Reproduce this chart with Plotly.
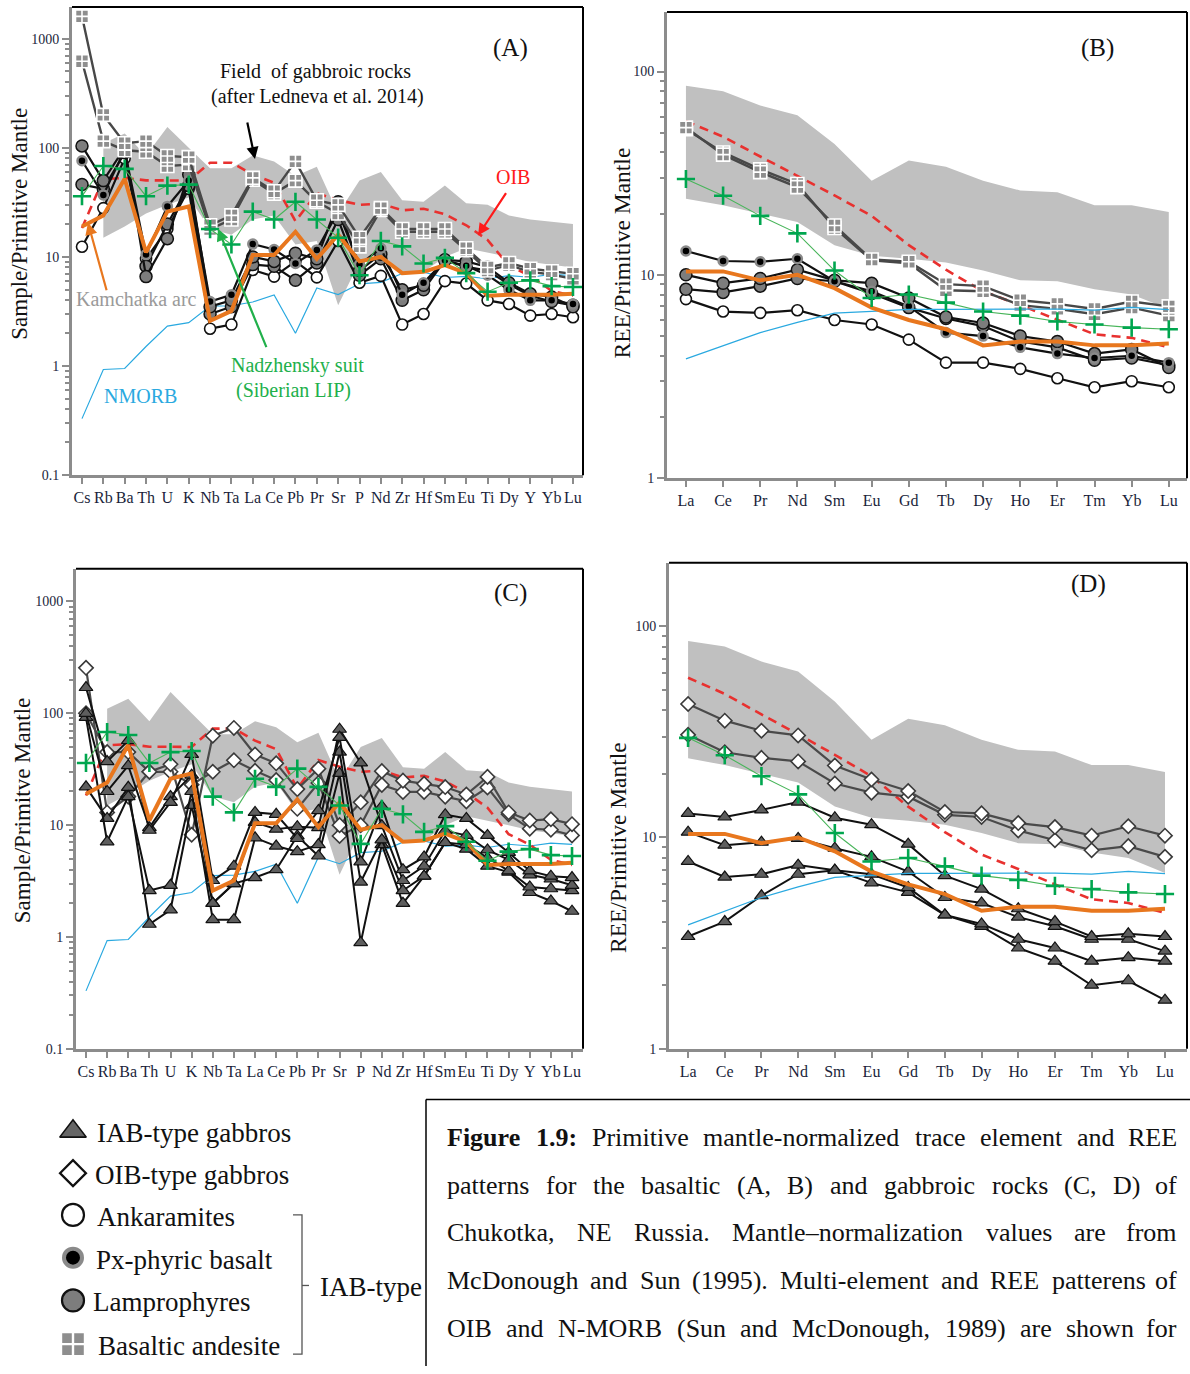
import plotly.graph_objects as go

W, H = 1190, 1374
SERIF = "Liberation Serif, Times New Roman, serif"

# ---------------------------------------------------------------- data
TRACE_EL = ["Cs", "Rb", "Ba", "Th", "U", "K", "Nb", "Ta", "La", "Ce", "Pb", "Pr",
            "Sr", "P", "Nd", "Zr", "Hf", "Sm", "Eu", "Ti", "Dy", "Y", "Yb", "Lu"]
REE_EL = ["La", "Ce", "Pr", "Nd", "Sm", "Eu", "Gd", "Tb", "Dy", "Ho", "Er", "Tm", "Yb", "Lu"]

# reference patterns (trace elements)
OIB_TRACE = [18.4, 51.7, 53, 50.3, 50.2, 50, 73, 73, 57, 47.8, 21.3, 38.2,
             33.2, 30, 30.8, 26.7, 27.6, 24.6, 19.5, 14.3, 8.3, 6.7, 4.9, 4.4]
NMORB_TRACE = [0.33, 0.93, 0.95, 1.51, 2.32, 2.5, 3.54, 3.57, 3.86, 4.48, 2.0, 5.2,
               4.52, 5.67, 5.84, 7.05, 7.24, 6.48, 6.62, 6.31, 6.75, 6.51, 6.92, 6.74]
KAMCHATKA_TRACE = [19, 24, 52, 11, 26, 29, 2.6, 3.2, 10.4, 10.4, 17, 9.6,
                   16, 9.1, 10, 7.1, 7.3, 8.4, 7.1, 4.4, 4.5, 4.5, 4.5, 4.6]
NADZHENSKY_TRACE = [36, 68, 64, 36, 45, 46, 18, 13, 26, 22, 32, 22,
                    15, 6.8, 14, 12.5, 8.7, 9.8, 7.1, 4.8, 5.8, 6.1, 5.4, 5.3]
# field of gabbroic rocks, Rb..Lu
FIELD_TRACE_UPPER = [110, 135, 85, 155, 100, 65, 65, 85, 75, 55, 67, 25,
                     50, 60, 33, 32, 45, 31, 30, 24, 22, 21, 20]
FIELD_TRACE_LOWER = [15, 19, 25, 30, 35, 18, 16, 22, 24, 13, 14, 3.6,
                     9, 11, 7, 7.3, 10, 12, 11, 10, 9, 8.5, 8]

# reference patterns (REE)
OIB_REE = [57, 47.8, 38.2, 30.8, 24.6, 19.5, 14.0, 10.6, 8.3, 7.1, 6.0, 5.1, 4.9, 4.4]
NMORB_REE = [3.86, 4.48, 5.2, 5.84, 6.48, 6.62, 6.76, 6.77, 6.75, 6.78, 6.78, 6.71, 6.92, 6.74]
KAMCHATKA_REE = [10.4, 10.4, 9.4, 10.0, 8.6, 6.9, 6.0, 5.4, 4.5, 4.7, 4.7, 4.5, 4.5, 4.6]
NADZHENSKY_REE = [29.6, 24.5, 19.5, 16.0, 10.5, 7.7, 8.0, 7.3, 6.6, 6.3, 5.9, 5.7, 5.5, 5.4]
FIELD_REE_UPPER = [85, 80, 68, 61, 44, 29, 36.5, 34, 29, 26, 25.5, 22, 22, 20.4]
FIELD_REE_LOWER = [23.7, 22, 20, 18.2, 14, 12.4, 12, 11.5, 10.5, 9.4, 9.3, 8.5, 8.0, 6.8]

# (A) basaltic rocks, trace elements
A_BAS_AND_1 = [1600, 200, 110, 115, 84, 82, 19.5, 24, 53, 40, 75, 33,
               30, 15, 28, 18, 18, 18, 12, 8, 8.8, 7.8, 7.4, 7.0]
A_BAS_AND_2 = [620, 115, 95, 92, 68, 70, 18, 22, 51, 38, 50, 32,
               25, 12.5, 27, 17, 17, 17, 11.5, 7.5, 8.4, 7.3, 6.9, 6.3]
A_PX_BASALT = [76, 37, 95, 10.5, 29, 50, 3.9, 4.5, 13.1, 11.7, 8.7, 11.6,
               26, 8.5, 12.0, 4.5, 5.8, 9.3, 8.3, 6.8, 5.0, 4.0, 4.0, 3.7]
A_LAMPRO_1 = [104, 50, 100, 6.6, 14.7, 57, 3.5, 4.0, 10.0, 9.1, 10.8, 9.6,
              32, 7.5, 10.6, 5.0, 5.5, 9.4, 9.1, 8.1, 5.8, 4.6, 4.3, 3.5]
A_LAMPRO_2 = [46, 42, 90, 8.2, 20, 45, 3.0, 3.5, 8.5, 8.2, 6.1, 8.8,
              22, 6.8, 9.6, 4.0, 5.0, 9.3, 8.1, 7.5, 5.6, 4.4, 3.9, 3.6]
A_ANKARAMITE = [12.4, 28, 80, 9.6, 18, 42, 2.2, 2.4, 7.6, 6.6, 9.1, 6.5,
                14, 5.8, 6.7, 2.4, 3.0, 6.0, 5.7, 4.0, 3.7, 2.9, 3.0, 2.8]

# (B) basaltic rocks, REE
B_BAS_AND_1 = [53, 39, 32, 27, 17.5, 11.9, 11.6, 9.0, 8.8, 7.5, 7.2, 6.8, 7.4, 7.0]
B_BAS_AND_2 = [52, 40, 33, 28, 17.0, 11.8, 11.4, 8.4, 8.3, 7.1, 6.8, 6.4, 6.9, 6.3]
B_PX_BASALT = [13.1, 11.7, 11.6, 12.0, 9.3, 8.3, 7.0, 5.2, 5.0, 4.4, 4.1, 3.9, 4.0, 3.7]
B_LAMPRO_1 = [10.0, 9.1, 9.6, 10.6, 9.4, 9.1, 7.7, 6.2, 5.8, 5.0, 4.7, 4.1, 4.3, 3.5]
B_LAMPRO_2 = [8.5, 8.2, 8.8, 9.6, 9.3, 8.1, 6.9, 6.1, 5.6, 4.7, 4.4, 3.8, 3.9, 3.6]
B_ANKARAMITE = [7.6, 6.6, 6.5, 6.7, 6.0, 5.7, 4.8, 3.7, 3.7, 3.45, 3.1, 2.8, 3.0, 2.8]

# (C) gabbroic rocks, trace elements
C_IAB_1 = [170, 37, 57, 9, 16, 43, 3.2, 4.3, 13.0, 12.5, 7.6, 13.5,
           61, 4.7, 14.7, 4.0, 5.2, 12.4, 11.5, 8.1, 5.7, 3.9, 3.5, 3.4]
C_IAB_2 = [100, 20, 34, 9.5, 18, 28, 2.0, 3.0, 10.6, 9.2, 9.7, 9.5,
           72, 36, 9.9, 3.2, 4.3, 8.9, 8.1, 6.0, 4.9, 3.6, 3.3, 2.9]
C_IAB_3 = [92, 7.1, 18, 2.6, 2.9, 20, 1.43, 1.43, 7.7, 6.5, 5.8, 6.7,
           45, 3.1, 7.4, 2.6, 3.5, 7.0, 6.7, 5.1, 3.9, 2.8, 2.7, 2.6]
C_IAB_4 = [22, 11.5, 21.8, 1.3, 1.75, 15, 2.0, 3.0, 3.4, 4.0, 8.0, 5.3,
           29, 0.89, 6.7, 2.0, 3.5, 7.0, 6.1, 4.3, 3.8, 2.5, 2.1, 1.7]
C_OIB_1 = [255, 13, 18, 30, 35, 8.2, 63, 74, 42.8, 35.7, 21, 32,
           10, 16, 30.4, 25, 23.4, 21.9, 18.8, 27, 13.0, 11, 11.3, 10.2]
C_OIB_2 = [100, 45, 45, 30, 30, 23, 30, 38, 30.6, 25.3, 14, 23.8,
           8, 10, 22.9, 19.8, 19.8, 18.0, 16.3, 21.7, 12.5, 9.3, 9.1, 8.1]

# (D) gabbroic rocks, REE
D_IAB_1 = [13.0, 12.5, 13.5, 14.7, 12.4, 11.5, 9.3, 6.6, 5.7, 4.6, 4.0, 3.4, 3.5, 3.4]
D_IAB_2 = [10.6, 9.2, 9.5, 9.9, 8.9, 8.1, 6.9, 5.2, 4.9, 4.2, 3.8, 3.3, 3.3, 2.9]
D_IAB_3 = [7.7, 6.5, 6.7, 7.4, 7.0, 6.7, 5.8, 4.3, 3.9, 3.3, 3.0, 2.6, 2.7, 2.6]
D_IAB_4 = [3.4, 4.0, 5.3, 6.7, 7.0, 6.1, 5.5, 4.3, 3.8, 3.0, 2.6, 2.0, 2.1, 1.7]
D_OIB_1 = [42.8, 35.7, 32, 30.4, 21.9, 18.8, 16.6, 13.2, 13.0, 11.7, 11.2, 10.2, 11.3, 10.2]
D_OIB_2 = [30.6, 25.3, 23.8, 22.9, 18.0, 16.3, 15.6, 12.8, 12.5, 10.8, 9.7, 8.7, 9.1, 8.1]

LEGEND_LABELS = ["IAB-type gabbros", "OIB-type gabbros", "Ankaramites",
                 "Px-phyric basalt", "Lamprophyres", "Basaltic andesite"]
CAPTION = [
    "Figure 1.9: Primitive mantle-normalized trace element and REE",
    "patterns for the basaltic (A, B) and gabbroic rocks (C, D) of",
    "Chukotka, NE Russia. Mantle\u2013normalization values are from",
    "McDonough and Sun (1995). Multi-element and REE patterens of",
    "OIB and N-MORB (Sun and McDonough, 1989) are shown for",
]

# ---------------------------------------------------------------- layout helpers
def xp(v):
    return v / W


def yp(v):
    return 1 - v / H


PANELS = {
    "A": dict(x="x", y="y", xdom=(72, 583), ydom=(7, 478), xr=[-0.468, 23.47], yr=[-1, 3.29],
              cats=TRACE_EL, majors=[0.1, 1, 10, 100, 1000]),
    "B": dict(x="x2", y="y2", xdom=(667, 1187), ydom=(12, 481), xr=[-0.51, 13.49], yr=[0, 2.293],
              cats=REE_EL, majors=[1, 10, 100]),
    "C": dict(x="x3", y="y3", xdom=(76, 583), ydom=(572, 1055), xr=[-0.473, 23.52], yr=[-1, 3.293],
              cats=TRACE_EL, majors=[0.1, 1, 10, 100, 1000]),
    "D": dict(x="x4", y="y4", xdom=(669, 1187), ydom=(566, 1055), xr=[-0.52, 13.6], yr=[0, 2.30],
              cats=REE_EL, majors=[1, 10, 100]),
}

STYLE = {
    "BA": dict(lc="#484848", lw=2.4, sym="square-cross", size=13, fill="#8e8e8e", mlc="#ffffff", mlw=1.6),
    "PX": dict(lc="#111111", lw=2.2, sym="circle", size=9, fill="#000000", mlc="#8a8a8a", mlw=2.5),
    "LAMP": dict(lc="#111111", lw=2.2, sym="circle", size=12, fill="#7d7d7d", mlc="#111111", mlw=1.5),
    "ANK": dict(lc="#111111", lw=2.2, sym="circle", size=11, fill="#ffffff", mlc="#111111", mlw=1.6),
    "TRI": dict(lc="#111111", lw=2.0, sym="triangle-up", size=12, fill="#5e5e5e", mlc="#111111", mlw=1.2),
    "DIA": dict(lc="#4a4a4a", lw=2.2, sym="diamond", size=11, fill="#ffffff", mlc="#3a3a3a", mlw=1.6),
}

fig = go.Figure()


def add_field(p, cats, up, lo):
    cs = list(cats)
    fig.add_trace(go.Scatter(x=cs + cs[::-1], y=list(up) + list(lo)[::-1], mode="lines",
                             fill="toself", fillcolor="#c0c0c0", line=dict(width=0, color="#c0c0c0"),
                             xaxis=p["x"], yaxis=p["y"], showlegend=False, hoverinfo="skip"))


def add_line(p, cats, vals, color, width, dash="solid"):
    fig.add_trace(go.Scatter(x=cats, y=vals, mode="lines", line=dict(color=color, width=width, dash=dash),
                             xaxis=p["x"], yaxis=p["y"], showlegend=False, hoverinfo="skip"))


def add_sample(p, cats, vals, key):
    s = STYLE[key]
    fig.add_trace(go.Scatter(x=cats, y=vals, mode="lines+markers",
                             line=dict(color=s["lc"], width=s["lw"]),
                             marker=dict(symbol=s["sym"], size=s["size"], color=s["fill"],
                                         line=dict(color=s["mlc"], width=s["mlw"])),
                             xaxis=p["x"], yaxis=p["y"], showlegend=False, hoverinfo="skip"))


def add_nadz(p, cats, vals):
    fig.add_trace(go.Scatter(x=cats, y=vals, mode="lines+markers",
                             line=dict(color="#48b55a", width=1.1),
                             marker=dict(symbol="cross-thin", size=13, color="#00a64f",
                                         line=dict(color="#00a64f", width=2.6)),
                             xaxis=p["x"], yaxis=p["y"], showlegend=False, hoverinfo="skip"))


RED, BLUE, ORANGE = "#e8312f", "#2aa9e0", "#e8771e"
DASH = "9px,6px"

# ---- panel A
p = PANELS["A"]
add_field(p, TRACE_EL[1:], FIELD_TRACE_UPPER, FIELD_TRACE_LOWER)
add_line(p, TRACE_EL, NMORB_TRACE, BLUE, 1.2)
add_line(p, TRACE_EL, OIB_TRACE, RED, 2.6, DASH)
add_sample(p, TRACE_EL, A_ANKARAMITE, "ANK")
add_sample(p, TRACE_EL, A_LAMPRO_2, "LAMP")
add_sample(p, TRACE_EL, A_LAMPRO_1, "LAMP")
add_sample(p, TRACE_EL, A_PX_BASALT, "PX")
add_sample(p, TRACE_EL, A_BAS_AND_2, "BA")
add_sample(p, TRACE_EL, A_BAS_AND_1, "BA")
add_line(p, TRACE_EL, KAMCHATKA_TRACE, ORANGE, 4)
add_nadz(p, TRACE_EL, NADZHENSKY_TRACE)

# ---- panel B
p = PANELS["B"]
add_field(p, REE_EL, FIELD_REE_UPPER, FIELD_REE_LOWER)
add_line(p, REE_EL, OIB_REE, RED, 2.6, DASH)
add_sample(p, REE_EL, B_ANKARAMITE, "ANK")
add_sample(p, REE_EL, B_LAMPRO_2, "LAMP")
add_sample(p, REE_EL, B_LAMPRO_1, "LAMP")
add_sample(p, REE_EL, B_PX_BASALT, "PX")
add_sample(p, REE_EL, B_BAS_AND_2, "BA")
add_sample(p, REE_EL, B_BAS_AND_1, "BA")
add_line(p, REE_EL, NMORB_REE, BLUE, 1.2)
add_line(p, REE_EL, KAMCHATKA_REE, ORANGE, 4)
add_nadz(p, REE_EL, NADZHENSKY_REE)

# ---- panel C
p = PANELS["C"]
add_field(p, TRACE_EL[1:], FIELD_TRACE_UPPER, FIELD_TRACE_LOWER)
add_line(p, TRACE_EL, NMORB_TRACE, BLUE, 1.2)
add_line(p, TRACE_EL, OIB_TRACE, RED, 2.6, DASH)
add_sample(p, TRACE_EL, C_OIB_2, "DIA")
add_sample(p, TRACE_EL, C_OIB_1, "DIA")
add_sample(p, TRACE_EL, C_IAB_4, "TRI")
add_sample(p, TRACE_EL, C_IAB_3, "TRI")
add_sample(p, TRACE_EL, C_IAB_2, "TRI")
add_sample(p, TRACE_EL, C_IAB_1, "TRI")
add_line(p, TRACE_EL, KAMCHATKA_TRACE, ORANGE, 4)
add_nadz(p, TRACE_EL, NADZHENSKY_TRACE)

# ---- panel D
p = PANELS["D"]
add_field(p, REE_EL, FIELD_REE_UPPER, FIELD_REE_LOWER)
add_line(p, REE_EL, OIB_REE, RED, 2.6, DASH)
add_sample(p, REE_EL, D_OIB_2, "DIA")
add_sample(p, REE_EL, D_OIB_1, "DIA")
add_sample(p, REE_EL, D_IAB_4, "TRI")
add_sample(p, REE_EL, D_IAB_3, "TRI")
add_sample(p, REE_EL, D_IAB_2, "TRI")
add_sample(p, REE_EL, D_IAB_1, "TRI")
add_line(p, REE_EL, NMORB_REE, BLUE, 1.2)
add_line(p, REE_EL, KAMCHATKA_REE, ORANGE, 4)
add_nadz(p, REE_EL, NADZHENSKY_REE)

# ---------------------------------------------------------------- axes
AXIS_GRAY = "#8c8c8c"
TICK_FONT_X = dict(family=SERIF, size=16, color="#1b1f3b")
TICK_FONT_Y = dict(family=SERIF, size=14, color="#1b1f3b")
layout_axes = {}
shapes = []
for i, key in enumerate(["A", "B", "C", "D"]):
    p = PANELS[key]
    sfx = "" if i == 0 else str(i + 1)
    minors = [k * 10 ** e for e in range(-1, 4) for k in range(2, 10)]
    layout_axes["xaxis" + sfx] = dict(
        domain=[xp(p["xdom"][0]), xp(p["xdom"][1])], anchor="y" + sfx,
        type="category", categoryorder="array", categoryarray=p["cats"],
        range=p["xr"], tickmode="array", tickvals=p["cats"], ticktext=p["cats"], tickangle=0,
        showline=True, linecolor=AXIS_GRAY, linewidth=3, mirror=False,
        ticks="outside", ticklen=6, tickwidth=2, tickcolor=AXIS_GRAY,
        tickfont=TICK_FONT_X, showgrid=False, zeroline=False, fixedrange=True)
    layout_axes["yaxis" + sfx] = dict(
        domain=[yp(p["ydom"][1]), yp(p["ydom"][0])], anchor="x" + sfx,
        type="log", range=p["yr"], tickmode="array", tickvals=p["majors"],
        ticktext=[("%g" % v) for v in p["majors"]],
        minor=dict(tickmode="array", tickvals=minors, ticks="outside", ticklen=4,
                   tickwidth=1.5, tickcolor=AXIS_GRAY, showgrid=False),
        showline=True, linecolor=AXIS_GRAY, linewidth=3, mirror=False,
        ticks="outside", ticklen=7, tickwidth=2, tickcolor=AXIS_GRAY,
        tickfont=TICK_FONT_Y, showgrid=False, zeroline=False, fixedrange=True)
    # black top and right frame lines
    shapes.append(dict(type="line", xref="x%s domain" % sfx, yref="y%s domain" % sfx,
                       x0=0, x1=1, y0=1, y1=1, line=dict(color="#000000", width=2), layer="above"))
    shapes.append(dict(type="line", xref="x%s domain" % sfx, yref="y%s domain" % sfx,
                       x0=1, x1=1, y0=0, y1=1, line=dict(color="#000000", width=2), layer="above"))

# overlay axes used for the legend key glyphs (pixel coordinates)
layout_axes["xaxis5"] = dict(domain=[0, 1], range=[0, W], visible=False, anchor="y5", fixedrange=True)
layout_axes["yaxis5"] = dict(domain=[0, 1], range=[H, 0], visible=False, anchor="x5", fixedrange=True)

# ---------------------------------------------------------------- legend key
LEG_X = 73
LEG_Y = [1138, 1180, 1222, 1265, 1308, 1352]
LEG_TEXT_X = [95, 93, 95, 94, 91, 96]
LEG_SYMBOLS = [
    dict(symbol="triangle-up", size=23, color="#666666", line=dict(color="#111111", width=1.6)),
    dict(symbol="diamond", size=20, color="#ffffff", line=dict(color="#111111", width=2.2)),
    dict(symbol="circle", size=22, color="#ffffff", line=dict(color="#111111", width=2.2)),
    dict(symbol="circle", size=18, color="#000000", line=dict(color="#8a8a8a", width=4)),
    dict(symbol="circle", size=22, color="#7d7d7d", line=dict(color="#111111", width=2.2)),
    dict(symbol="square-cross", size=24, color="#8e8e8e", line=dict(color="#ffffff", width=2.4)),
]
for yy, ms in zip(LEG_Y, LEG_SYMBOLS):
    fig.add_trace(go.Scatter(x=[LEG_X], y=[yy], mode="markers", marker=ms, xaxis="x5", yaxis="y5",
                             showlegend=False, hoverinfo="skip"))

annotations = []
for lbl, yy, xx in zip(LEGEND_LABELS, LEG_Y, LEG_TEXT_X):
    annotations.append(dict(text=lbl, x=xp(xx), y=yp(yy + 2), xref="paper", yref="paper",
                            xanchor="left", yanchor="middle", showarrow=False,
                            font=dict(family=SERIF, size=27, color="#111111")))
# bracket
bx0, bx1 = 293, 302
shapes.append(dict(type="path", xref="paper", yref="paper",
                   path="M %f,%f L %f,%f L %f,%f L %f,%f" % (xp(bx0), yp(1222), xp(bx1), yp(1222),
                                                           xp(bx1), yp(1362), xp(bx0), yp(1362)),
                   line=dict(color="#555555", width=1.3)))
shapes.append(dict(type="line", xref="paper", yref="paper", x0=xp(bx1), x1=xp(309), y0=yp(1293), y1=yp(1293),
                   line=dict(color="#555555", width=1.3)))
annotations.append(dict(text="IAB-type", x=xp(318), y=yp(1295), xref="paper", yref="paper",
                        xanchor="left", yanchor="middle", showarrow=False,
                        font=dict(family=SERIF, size=27, color="#111111")))

# ---------------------------------------------------------------- caption box
shapes.append(dict(type="line", xref="paper", yref="paper", x0=xp(426), x1=xp(426), y0=yp(1106), y1=0,
                   line=dict(color="#000000", width=1.5)))
shapes.append(dict(type="line", xref="paper", yref="paper", x0=xp(426), x1=1, y0=yp(1106), y1=yp(1106),
                   line=dict(color="#000000", width=1.5)))

_low = "abcdefghijklmnopqrstuvwxyz"
_loww = [444, 500, 444, 500, 444, 333, 500, 500, 278, 278, 500, 278, 778, 500, 500, 500, 500, 333, 389,
         278, 500, 500, 722, 500, 500, 444]
_up = "ABCDEFGHIJKLMNOPQRSTUVWXYZ"
_upw = [722, 667, 667, 722, 611, 556, 722, 722, 333, 389, 722, 611, 889, 722, 722, 556, 722, 667, 556,
        611, 722, 722, 944, 722, 722, 611]
CW = dict(zip(_low, _loww))
CW.update(dict(zip(_up, _upw)))
CW.update({" ": 250, ".": 250, ",": 250, ":": 278, "(": 333, ")": 333, "-": 333, "\u2013": 500})
CW.update({d: 500 for d in "0123456789"})
CWB = dict(CW)
CWB.update({"F": 611, "u": 556, "r": 444, ":": 333})


def text_w(s, size, bold=False):
    tbl = CWB if bold else CW
    return sum(tbl.get(c, 500) for c in s) * size / 1000.0


CAP_SIZE = 26
CAP_X0, CAP_X1 = 446, 1178
for li, line in enumerate(CAPTION):
    words = line.split(" ")
    bold = [li == 0 and wi < 2 for wi in range(len(words))]
    widths = [text_w(w, CAP_SIZE, b) for w, b in zip(words, bold)]
    gap = (CAP_X1 - CAP_X0 - sum(widths)) / (len(words) - 1)
    cy = 1144 + 48 * li
    cx = CAP_X0
    for wi, (w, b, ww) in enumerate(zip(words, bold, widths)):
        last = wi == len(words) - 1
        annotations.append(dict(text=("<b>%s</b>" % w) if b else w,
                                x=xp(CAP_X1 if last else cx), y=yp(cy), xref="paper", yref="paper",
                                xanchor="right" if last else "left", yanchor="middle",
                                showarrow=False, borderpad=0,
                                font=dict(family=SERIF, size=CAP_SIZE, color="#111111")))
        cx += ww + gap

# ---------------------------------------------------------------- panel texts
def ann(text, x, y, size, color="#111111", angle=0, anchor="center"):
    annotations.append(dict(text=text, x=xp(x), y=yp(y), xref="paper", yref="paper",
                            xanchor=anchor, yanchor="middle", showarrow=False, textangle=angle,
                            font=dict(family=SERIF, size=size, color=color)))


ann("Sample/Primitive Mantle", 20, 225, 23, angle=-90)
ann("REE/Primitive Mantle", 622, 255, 23.5, angle=-90)
ann("Sample/Primitve Mantle", 22, 815, 23, angle=-90)
ann("REE/Primitive Mantle", 618, 853, 23.5, angle=-90)
ann("(A)", 510, 48, 25)
ann("(B)", 1097, 48, 25)
ann("(C)", 510, 596, 25)
ann("(D)", 1088, 587, 25)
ann("Field  of gabbroic rocks", 315, 72, 20)
ann("(after Ledneva et al. 2014)", 317, 97, 20)
ann("OIB", 513, 178, 20, color="#ff1a1a")
ann("Kamchatka arc", 136, 301, 20, color="#9a9a9a")
ann("Nadzhensky suit", 297, 368, 20, color="#21b04b")
ann("(Siberian LIP)", 293, 393, 20, color="#21b04b")
ann("NMORB", 140, 398, 20, color="#2aa9e0")


def arrow(tip, tail, color):
    annotations.append(dict(text="", x=xp(tip[0]), y=yp(tip[1]), xref="paper", yref="paper",
                            ax=tail[0] - tip[0], ay=tail[1] - tip[1], showarrow=True,
                            arrowhead=2, arrowsize=1.1, arrowwidth=2.2, arrowcolor=color))


arrow((255, 160), (247, 122), "#000000")
arrow((478, 237), (507, 193), "#ff1a1a")
arrow((88, 224), (107, 293), ORANGE)
arrow((218, 230), (267, 350), "#21b04b")

fig.update_layout(
    width=W, height=H, autosize=False,
    margin=dict(l=0, r=0, t=0, b=0, pad=0),
    paper_bgcolor="#ffffff", plot_bgcolor="rgba(0,0,0,0)",
    showlegend=False, annotations=annotations, shapes=shapes,
    font=dict(family=SERIF),
    **layout_axes,
)

fig.write_html("out.html")
